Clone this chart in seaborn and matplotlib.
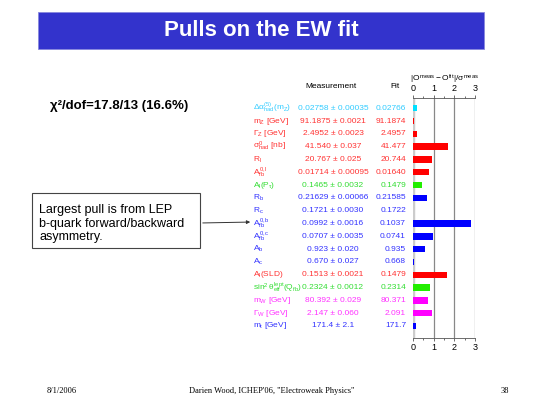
import numpy as np
import pandas as pd
import matplotlib
matplotlib.use("Agg")
import matplotlib.pyplot as plt
import matplotlib.transforms as mtransforms
from matplotlib.patches import Rectangle
import seaborn as sns

# ---- data ----
keys = ["dalpha", "mZ", "GZ", "sig0", "Rl", "Afbl", "AlPtau", "Rb", "Rc", "Afbb",
        "Afbc", "Ab", "Ac", "AlSLD", "sin2th", "mW", "GW", "mt"]
labels = [r"$\Delta\alpha^{(5)}_{had}(m_Z)$", r"$m_Z$ [GeV]", r"$\Gamma_Z$ [GeV]",
          r"$\sigma^0_{had}$ [nb]", r"$R_l$", r"$A^{0,l}_{fb}$", r"$A_l(P_\tau)$",
          r"$R_b$", r"$R_c$", r"$A^{0,b}_{fb}$", r"$A^{0,c}_{fb}$", r"$A_b$", r"$A_c$",
          r"$A_l$(SLD)", r"$\sin^2\theta^{lept}_{eff}(Q_{fb})$", r"$m_W$ [GeV]",
          r"$\Gamma_W$ [GeV]", r"$m_t$ [GeV]"]
measurements = ["0.02758 ± 0.00035", "91.1875 ± 0.0021", "2.4952 ± 0.0023",
                "41.540 ± 0.037", "20.767 ± 0.025", "0.01714 ± 0.00095",
                "0.1465 ± 0.0032", "0.21629 ± 0.00066", "0.1721 ± 0.0030",
                "0.0992 ± 0.0016", "0.0707 ± 0.0035", "0.923 ± 0.020",
                "0.670 ± 0.027", "0.1513 ± 0.0021", "0.2324 ± 0.0012",
                "80.392 ± 0.029", "2.147 ± 0.060", "171.4 ± 2.1"]
fits = ["0.02766", "91.1874", "2.4957", "41.477", "20.744", "0.01640", "0.1479",
        "0.21585", "0.1722", "0.1037", "0.0741", "0.935", "0.668", "0.1479",
        "0.2314", "80.371", "2.091", "171.7"]
pulls = [0.23, 0.05, 0.22, 1.70, 0.92, 0.78, 0.44, 0.67, 0.03, 2.80,
         0.97, 0.60, 0.07, 1.62, 0.83, 0.72, 0.93, 0.14]
groups = ["cyan", "red", "red", "red", "red", "red", "green", "blue", "blue", "blue",
          "blue", "blue", "blue", "red", "green", "magenta", "magenta", "blue"]

bar_colors = {"cyan": "#00e0ff", "red": "#ff0000", "green": "#22ee00",
              "blue": "#0000ff", "magenta": "#ff00ff"}
text_colors = {"cyan": "#33ccff", "red": "#ff3333", "green": "#33dd33",
               "blue": "#3333ff", "magenta": "#ff33ff"}

df = pd.DataFrame({"key": keys, "pull": pulls, "group": groups})

W, H = 545, 408
fig = plt.figure(figsize=(W / 100, H / 100), dpi=100)
fig.patch.set_facecolor("white")

plt.rcParams["mathtext.fontset"] = "custom"
plt.rcParams["mathtext.rm"] = "Liberation Sans"
plt.rcParams["mathtext.it"] = "Liberation Sans"
plt.rcParams["mathtext.bf"] = "Liberation Sans:bold"
plt.rcParams["font.family"] = ["Liberation Sans", "DejaVu Sans"]

def fx(px):
    return px / W

def fy(py):
    return 1 - py / H

# pull axes
ax_l, ax_r = 412.7, 475.3
ax_t, ax_b = 98, 338
ax = fig.add_axes([fx(ax_l), fy(ax_b), fx(ax_r - ax_l), (ax_b - ax_t) / H])
sns.barplot(data=df, x="pull", y="key", hue="group", palette=bar_colors,
            orient="h", dodge=False, legend=False, width=0.5, ax=ax,
            order=keys, saturation=1)
ax.set_xlim(0, 3)
ax.set_ylim(17.94, -0.8)
ax.set_xlabel("")
ax.set_ylabel("")
ax.set_yticks([])
for x in [1, 2, 3]:
    ax.axvline(x, color="#888888", lw=0.9, zorder=0)
ax.axvline(0, color="#cccccc", lw=2.5, zorder=0)
for s in ["left", "right"]:
    ax.spines[s].set_visible(False)
for s in ["top", "bottom"]:
    ax.spines[s].set_color("#555555")
    ax.spines[s].set_linewidth(0.6)
ax.set_xticks([0, 1, 2, 3])
ax.set_xticks(np.arange(0, 3.01, 0.5), minor=True)
ax.tick_params(axis="x", which="both", top=True, labeltop=True, bottom=True,
               labelbottom=True, labelsize=6.5, length=2.5, width=0.6,
               color="#555555", pad=1)
ax.tick_params(axis="x", which="minor", length=1.5)
ax.patch.set_alpha(0)

# row texts
tr = mtransforms.blended_transform_factory(fig.transFigure, ax.transData)
for i, (lab, m, f, g) in enumerate(zip(labels, measurements, fits, groups)):
    c = text_colors[g]
    ax.text(fx(253), i, lab, transform=tr, ha="left", va="center", fontsize=6,
            color=c, clip_on=False)
    ax.text(fx(333), i, m, transform=tr, ha="center", va="center", fontsize=6,
            color=c, clip_on=False)
    ax.text(fx(406), i, f, transform=tr, ha="right", va="center", fontsize=6,
            color=c, clip_on=False)

# column headers
fig.text(fx(331), fy(87), "Measurement", ha="center", va="center", fontsize=6)
fig.text(fx(395), fy(87), "Fit", ha="center", va="center", fontsize=6)
fig.text(fx(445), fy(79), r"$|O^{meas}-O^{fit}|/\sigma^{meas}$", ha="center",
         va="center", fontsize=6)

# title banner
fig.patches.append(Rectangle((fx(38), fy(49)), fx(446), 36.7 / H,
                             transform=fig.transFigure, facecolor="#3333cc",
                             edgecolor="#8888dd", lw=0.6, zorder=0))
fig.text(fx(261), fy(30.5), "Pulls on the EW fit", ha="center", va="center",
         fontsize=16, fontweight="bold", color="white")

# chi2 text
fig.text(fx(50), fy(106), "χ²/dof=17.8/13 (16.6%)", ha="left",
         va="center", fontsize=9.5, fontweight="bold")

# annotation box
fig.patches.append(Rectangle((fx(32), fy(248)), fx(168), 55 / H,
                             transform=fig.transFigure, facecolor="white",
                             edgecolor="#444444", lw=0.8))
fig.text(fx(39), fy(223.5), "Largest pull is from LEP\nb-quark forward/backward\nasymmetry.",
         ha="left", va="center", fontsize=9, linespacing=1.15)
fig.add_artist(matplotlib.patches.FancyArrowPatch(
    (fx(200), fy(223)), (fx(253), fy(222)), transform=fig.transFigure,
    arrowstyle="-|>", mutation_scale=5, color="#333333", lw=0.7))

# footer
fig.text(fx(62), fy(391), "8/1/2006", ha="center", va="center", fontsize=6,
         family="Liberation Serif")
fig.text(fx(272), fy(391), "Darien Wood, ICHEP'06, \"Electroweak Physics\"",
         ha="center", va="center", fontsize=6, family="Liberation Serif")
fig.text(fx(505), fy(391), "38", ha="center", va="center", fontsize=6,
         family="Liberation Serif")

fig.savefig("out.png", dpi=100)
